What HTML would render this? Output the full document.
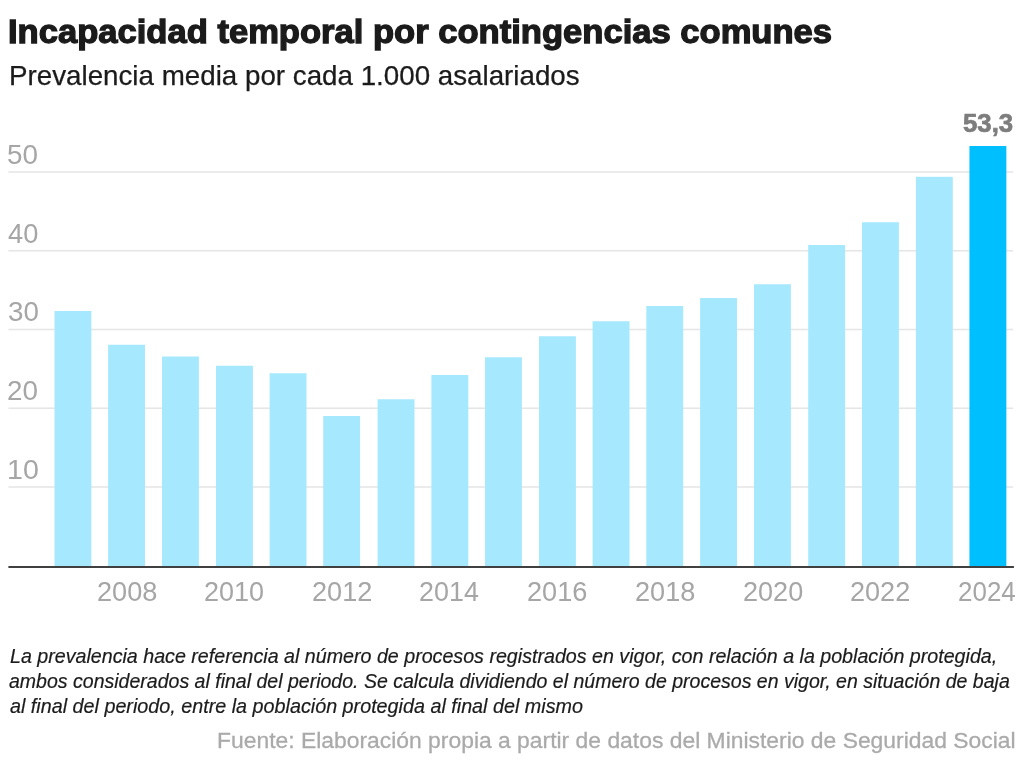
<!DOCTYPE html>
<html lang="es"><head><meta charset="utf-8"><title>Incapacidad temporal por contingencias comunes</title>
<style>
html,body{margin:0;padding:0;background:#fff;}
body{width:1024px;height:765px;position:relative;overflow:hidden;font-family:"Liberation Sans",Arial,sans-serif;}
.t{position:absolute;white-space:nowrap;transform-origin:0 0;line-height:1;margin:0;}
.title{font-size:33px;font-weight:bold;color:#1b1b1b;-webkit-text-stroke:1.3px #1b1b1b;}
.sub{font-size:27.3px;color:#1b1b1b;-webkit-text-stroke:0.25px #1b1b1b;}
.ax{font-size:27.3px;color:#a6a6a6;}
.val{font-size:25.2px;font-weight:bold;color:#7d7d7d;-webkit-text-stroke:0.7px #7d7d7d;}
.note{font-size:19.6px;font-style:italic;color:#1b1b1b;-webkit-text-stroke:0.2px #1b1b1b;}
.src{font-size:22.5px;color:#aaaaaa;-webkit-text-stroke:0.3px #aaaaaa;}
svg{position:absolute;left:0;top:0;}
</style></head><body>
<svg width="1024" height="765" viewBox="0 0 1024 765">
<rect x="8.4" y="171.2" width="1004.7" height="1.6" fill="#e6e6e6"/>
<rect x="8.4" y="249.95" width="1004.7" height="1.6" fill="#e6e6e6"/>
<rect x="8.4" y="328.7" width="1004.7" height="1.6" fill="#e6e6e6"/>
<rect x="8.4" y="407.45" width="1004.7" height="1.6" fill="#e6e6e6"/>
<rect x="8.4" y="486.2" width="1004.7" height="1.6" fill="#e6e6e6"/>
<rect x="54.50" y="311" width="36.9" height="256" fill="#a6e9ff"/>
<rect x="108.10" y="344.75" width="36.9" height="222.25" fill="#a6e9ff"/>
<rect x="162.00" y="356.5" width="36.9" height="210.5" fill="#a6e9ff"/>
<rect x="216.00" y="365.75" width="36.9" height="201.25" fill="#a6e9ff"/>
<rect x="269.60" y="373.25" width="36.9" height="193.75" fill="#a6e9ff"/>
<rect x="323.20" y="416" width="36.9" height="151" fill="#a6e9ff"/>
<rect x="377.60" y="399.25" width="36.9" height="167.75" fill="#a6e9ff"/>
<rect x="431.40" y="375" width="36.9" height="192" fill="#a6e9ff"/>
<rect x="485.00" y="357.25" width="36.9" height="209.75" fill="#a6e9ff"/>
<rect x="539.00" y="336.25" width="36.9" height="230.75" fill="#a6e9ff"/>
<rect x="592.60" y="321.25" width="36.9" height="245.75" fill="#a6e9ff"/>
<rect x="646.30" y="306" width="36.9" height="261" fill="#a6e9ff"/>
<rect x="700.10" y="298" width="36.9" height="269" fill="#a6e9ff"/>
<rect x="754.00" y="284.25" width="36.9" height="282.75" fill="#a6e9ff"/>
<rect x="808.20" y="245" width="36.9" height="322" fill="#a6e9ff"/>
<rect x="862.00" y="222.25" width="36.9" height="344.75" fill="#a6e9ff"/>
<rect x="915.90" y="176.8" width="36.9" height="390.2" fill="#a6e9ff"/>
<rect x="969.45" y="146" width="36.9" height="421" fill="#00bfff"/>
<rect x="8.4" y="566" width="1005.5" height="2" fill="#404040"/>
</svg>
<div class="t title" id="title" style="left:8.44px;top:14.85px;transform:scale(1.0475,1.0000);">Incapacidad temporal por contingencias comunes</div>
<div class="t sub" id="sub" style="left:8.67px;top:61.85px;transform:scale(1.0164,1.0000);">Prevalencia media por cada 1.000 asalariados</div>
<div class="t ax" id="y50" style="left:7.42px;top:141.40px;transform:scale(1.0196,1.0000);">50</div>
<div class="t ax" id="y40" style="left:8.30px;top:219.90px;transform:scale(0.9979,1.0000);">40</div>
<div class="t ax" id="y30" style="left:7.86px;top:298.34px;transform:scale(1.0162,1.0000);">30</div>
<div class="t ax" id="y20" style="left:7.49px;top:376.80px;transform:scale(1.0191,1.0000);">20</div>
<div class="t ax" id="y10" style="left:6.85px;top:456.40px;transform:scale(1.0457,1.0000);">10</div>
<div class="t ax" id="x2008" style="left:97.04px;top:578.14px;transform:scale(0.9946,1.0000);">2008</div>
<div class="t ax" id="x2010" style="left:203.73px;top:578.20px;transform:scale(0.9896,1.0000);">2010</div>
<div class="t ax" id="x2012" style="left:312.22px;top:578.20px;transform:scale(0.9946,1.0000);">2012</div>
<div class="t ax" id="x2014" style="left:419.36px;top:578.20px;transform:scale(0.9854,1.0000);">2014</div>
<div class="t ax" id="x2016" style="left:527.29px;top:578.20px;transform:scale(0.9946,1.0000);">2016</div>
<div class="t ax" id="x2018" style="left:634.92px;top:578.20px;transform:scale(0.9942,1.0000);">2018</div>
<div class="t ax" id="x2020" style="left:742.82px;top:578.14px;transform:scale(0.9911,1.0000);">2020</div>
<div class="t ax" id="x2022" style="left:850.01px;top:578.14px;transform:scale(0.9920,1.0000);">2022</div>
<div class="t ax" id="x2024" style="left:958.32px;top:578.20px;transform:scale(0.9514,1.0000);">2024</div>
<div class="t val" id="val" style="left:962.75px;top:111.31px;transform:scale(1.0221,1.0000);">53,3</div>
<div class="t note" id="n1" style="left:9.64px;top:646.60px;transform:scale(1.0026,1.0000);">La prevalencia hace referencia al número de procesos registrados en vigor, con relación a la población protegida,</div>
<div class="t note" id="n2" style="left:9.23px;top:671.60px;transform:scale(0.9965,1.0000);">ambos considerados al final del periodo. Se calcula dividiendo el número de procesos en vigor, en situación de baja</div>
<div class="t note" id="n3" style="left:9.98px;top:697.00px;transform:scale(1.0077,1.0000);">al final del periodo, entre la población protegida al final del mismo</div>
<div class="t src" id="src" style="left:216.71px;top:729.69px;transform:scale(1.0167,1.0000);">Fuente: Elaboración propia a partir de datos del Ministerio de Seguridad Social</div>
</body></html>
